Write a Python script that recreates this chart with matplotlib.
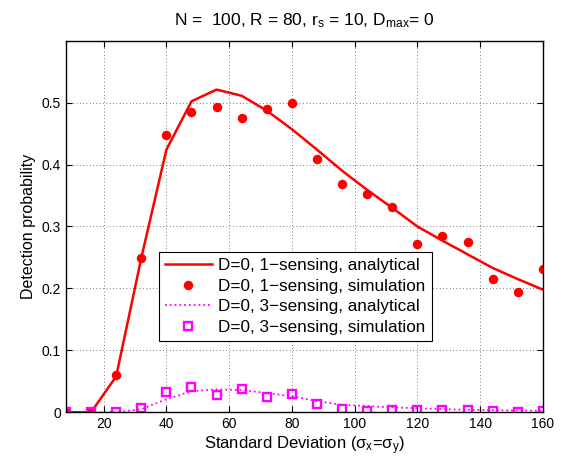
import numpy as np
import matplotlib
matplotlib.use('Agg')
import matplotlib.pyplot as plt

plt.rcParams['font.family'] = ['Liberation Sans', 'DejaVu Sans']
plt.rcParams['mathtext.default'] = 'regular'

# standard deviation values
sigma = [8, 16, 24, 32, 40, 48, 56, 64, 72, 80, 88, 96, 104, 112, 120, 128, 136, 144, 152, 160]

# 1-sensing
ana_1 = [0, 0, 0.058, 0.249, 0.424, 0.502, 0.521, 0.511, 0.487, 0.457, 0.424, 0.390,
         0.359, 0.330, 0.300, 0.277, 0.255, 0.233, 0.215, 0.198]
sim_1 = [0, 0, 0.060, 0.249, 0.447, 0.485, 0.493, 0.475, 0.489, 0.499, 0.409, 0.369,
         0.353, 0.331, 0.271, 0.285, 0.275, 0.215, 0.194, 0.231]

# 3-sensing
ana_3 = [0, 0, 0.0, 0.005, 0.021, 0.034, 0.037, 0.036, 0.031, 0.026, 0.018, 0.012,
         0.010, 0.008, 0.0065, 0.005, 0.004, 0.0035, 0.003, 0.0025]
sim_3 = [0, 0, 0, 0.0065, 0.032, 0.0405, 0.0286, 0.0378, 0.0243, 0.0302, 0.014, 0.006,
         0.0016, 0.0038, 0.0038, 0.0038, 0.0043, 0.0022, 0.0005, 0.0022]

fig = plt.figure(figsize=(5.62, 4.62), dpi=100)
ax = fig.add_axes([0.1174, 0.1076, 0.8486, 0.8044])

ax.plot(sigma, ana_1, '-', color='red', lw=1.8, label='D=0, 1\u2212sensing, analytical')
ax.plot(sigma, sim_1, 'o', color='red', ms=5.8, label='D=0, 1\u2212sensing, simulation')
ax.plot(sigma, ana_3, ':', color='magenta', lw=1.3, label='D=0, 3\u2212sensing, analytical')
ax.plot(sigma, sim_3, 's', color='magenta', mfc='none', ms=5.5, mew=1.7,
        label='D=0, 3\u2212sensing, simulation')

ax.set_xlim(8, 160)
ax.set_ylim(0, 0.6)
ax.set_xticks(range(20, 161, 20))
ax.set_yticks([0, 0.1, 0.2, 0.3, 0.4, 0.5])
ax.set_yticklabels(['0', '0.1', '0.2', '0.3', '0.4', '0.5'])
ax.grid(True, linestyle=(0, (1, 3)), color='black', lw=0.6, alpha=0.7)
ax.tick_params(direction='in', labelsize=10, top=True, right=True, length=4)
for s in ax.spines.values():
    s.set_linewidth(1.0)

ax.set_title('N =  100, R = 80, r$_s$ = 10, D$_{max}$= 0', fontsize=12.5, pad=11)
ax.set_xlabel('Standard Deviation ($\\sigma_x$=$\\sigma_y$)', fontsize=12, labelpad=2)
ax.set_ylabel('Detection probability', fontsize=11.5, labelpad=4)

leg = ax.legend(loc='upper left', bbox_to_anchor=(0.196, 0.431), borderaxespad=0,
                fontsize=12.3, fancybox=False, framealpha=1, edgecolor='black',
                handlelength=2.7, labelspacing=0.33, borderpad=0.35, handletextpad=0.4)
leg.get_frame().set_linewidth(0.8)

fig.savefig('out.png', dpi=100)
